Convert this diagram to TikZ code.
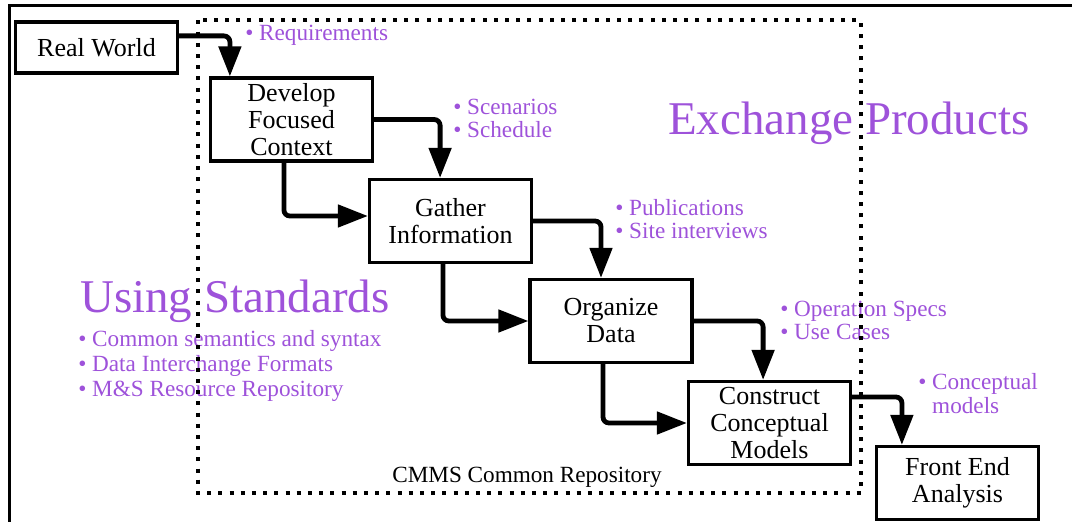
\documentclass[tikz,border=0pt]{standalone}
\usepackage{fontspec}
\setmainfont{Liberation Serif}
\usepackage{tikz}
\usetikzlibrary{arrows.meta, calc}
\definecolor{stdpurple}{RGB}{158,82,218}

\begin{document}
\begin{tikzpicture}[x=0.25mm, y=-0.25mm,
  stagebox/.style={draw, line width=0.8mm, minimum width=40.5mm, minimum height=20.75mm,
    align=center, inner sep=0pt, font=\fontsize{18.5}{19.2}\selectfont},
  flow/.style={line width=1.2mm, rounded corners=1.5mm, -{Triangle[length=7.5mm, width=5.5mm]}},
  note/.style={text=stdpurple, align=left, inner sep=0pt, anchor=base west,
    font=\fontsize{16.5}{16.4}\selectfont},
  banner/.style={text=stdpurple, inner sep=0pt, anchor=base west,
    font=\fontsize{33.4}{40}\selectfont}]
  \useasboundingbox (0,0) rectangle (1072,522);
  % frame, only top and left edge
  \draw[line width=0.75mm] (1072,6) -- (9,6) -- (9,522);

  % purple notes (base = last line)
  \node[note] at (245,41) (reqnote) {\textbullet\ Requirements};
  \node[note] at (453,138) (ctxnote) {\textbullet\ Scenarios\\\textbullet\ Schedule};
  \node[note] at (615,239) (infonote) {\textbullet\ Publications\\\textbullet\ Site interviews};
  \node[note] at (780,340) (datanote) {\textbullet\ Operation Specs\\\textbullet\ Use Cases};
  \node[note] at (918,413) (modelnote) {\textbullet\ Conceptual\\\phantom{\textbullet\ }models};
  \node[banner] at (668,135) (exchange) {Exchange Products};
  \node[banner] at (80,313) (standards) {Using Standards};
  \node[note, font=\fontsize{16.5}{17.8}\selectfont] at (78,397) (stdnote)
    {\textbullet\ Common semantics and syntax\\\textbullet\ Data Interchange Formats\\\textbullet\ M\&S Resource Repository};
  \node[note, text=black] at (392,482) (repo) {CMMS Common Repository};

  % repository outline
  \draw[line width=1mm, dash pattern=on 1mm off 1.8mm] (198,20.5) rectangle (861,493);

  \node[stagebox, minimum height=12.75mm] at (96.5,47.5) (realworld) {Real World};
  \node[stagebox] at (291.5,119.5) (develop) {Develop\\Focused\\Context};
  \node[stagebox] at (450.5,221) (gather) {Gather\\Information};
  \node[stagebox] at (611,321) (organize) {Organize\\Data};
  \node[stagebox] at (769.5,423) (construct) {Construct\\Conceptual\\Models};
  \node[stagebox, minimum height=18.25mm] at (957.5,483) (frontend) {Front End\\Analysis};

  \draw[flow] ([yshift=2.9mm]realworld.east) -| ([xshift=-15.4mm]develop.north);
  \draw[flow] (develop.east) -| ([xshift=-2.6mm]gather.north);
  \draw[flow] ([xshift=-1.9mm]develop.south) |- ([yshift=1.25mm]gather.west);
  \draw[flow] (gather.east) -| ([xshift=-2.5mm]organize.north);
  \draw[flow] ([xshift=-1.9mm]gather.south) |- (organize.west);
  \draw[flow] (organize.east) -| ([xshift=-1.6mm]construct.north);
  \draw[flow] ([xshift=-2mm]organize.south) |- (construct.west);
  \draw[flow] ([yshift=6.5mm]construct.east) -| ([xshift=-13.9mm]frontend.north);
\end{tikzpicture}
\end{document}
